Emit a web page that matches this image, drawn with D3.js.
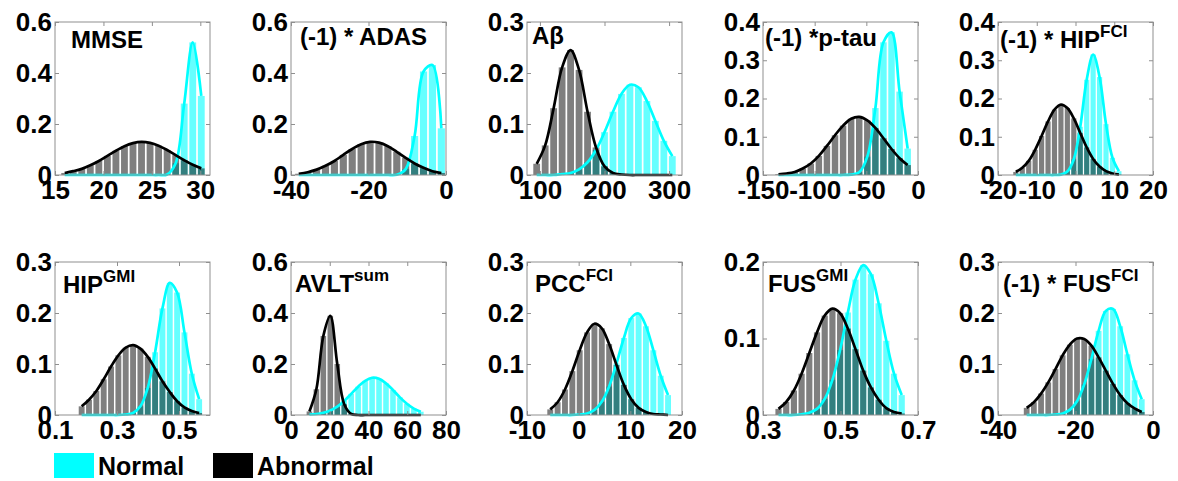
<!DOCTYPE html>
<html>
<head>
<meta charset="utf-8">
<script src="https://cdn.jsdelivr.net/npm/d3@7"></script>
<style>
  body { margin: 0; background: #fff; }
  text { font-family: "Liberation Sans", Arial, sans-serif; font-weight: bold; fill: #000; }
</style>
</head>
<body>
<svg id="chart" width="1178" height="481"></svg>
<script>
// ---- data ----
var titles    = ["MMSE", "(-1) * ADAS", "A\u03b2", "(-1) *p-tau", "(-1) * HIP",
                 "HIP", "AVLT", "PCC", "FUS", "(-1) * FUS"];
var titleSups = ["", "", "", "", "FCI", "GMI", "sum", "FCI", "GMI", "FCI"];

var xDomains = [[15, 31], [-40, 0], [80, 320], [-150, 0], [-20, 20],
                [0.1, 0.6], [0, 80], [-10, 20], [0.3, 0.7], [-40, 0]];
var xTicks = [[15, 20, 25, 30], [-40, -20, 0], [100, 200, 300], [-150, -100, -50, 0], [-20, -10, 0, 10, 20],
              [0.1, 0.3, 0.5], [0, 20, 40, 60, 80], [-10, 0, 10, 20], [0.3, 0.5, 0.7], [-40, -20, 0]];
var yMax = [0.6, 0.6, 0.3, 0.4, 0.4, 0.3, 0.6, 0.3, 0.2, 0.3];
var yTicks = [[0, 0.2, 0.4, 0.6], [0, 0.2, 0.4, 0.6], [0, 0.1, 0.2, 0.3], [0, 0.1, 0.2, 0.3, 0.4], [0, 0.1, 0.2, 0.3, 0.4],
              [0, 0.1, 0.2, 0.3], [0, 0.2, 0.4, 0.6], [0, 0.1, 0.2, 0.3], [0, 0.1, 0.2], [0, 0.1, 0.2, 0.3]];

// first and last bin centre of each panel (bins are evenly spaced)
var binRanges = [[16, 30.1], [-38, -1.2], [95, 305], [-135, -10], [-15.4, 11.2],
                 [0.186, 0.565], [9.5, 67], [-5.5, 17.3], [0.34, 0.658], [-32.6, -2.9]];

var normal = [
  [0, 0, 0, 0, 0, 0, 0, 0, 0, 0, 0, 0, 0.002, 0.046, 0.28, 0.52, 0.31],
  [0, 0, 0, 0, 0, 0, 0, 0, 0, 0, 0, 0.001, 0.023, 0.153, 0.406, 0.431, 0.183],
  [0, 0, 0, 0.002, 0.004, 0.011, 0.025, 0.049, 0.084, 0.124, 0.159, 0.177, 0.172, 0.145, 0.106, 0.067, 0.037],
  [0, 0, 0, 0, 0, 0, 0, 0, 0, 0.001, 0.007, 0.048, 0.175, 0.347, 0.373, 0.218, 0.069],
  [0, 0, 0, 0, 0, 0, 0, 0.001, 0.009, 0.041, 0.126, 0.249, 0.315, 0.256, 0.133, 0.045, 0.010],
  [0, 0, 0, 0, 0, 0, 0.001, 0.004, 0.017, 0.053, 0.123, 0.209, 0.259, 0.240, 0.162, 0.081, 0.031],
  [0.002, 0.004, 0.009, 0.018, 0.033, 0.055, 0.083, 0.111, 0.134, 0.146, 0.142, 0.124, 0.098, 0.069, 0.044, 0.025, 0.013],
  [0, 0, 0, 0, 0.001, 0.003, 0.010, 0.026, 0.056, 0.101, 0.151, 0.190, 0.199, 0.174, 0.127, 0.077, 0.039],
  [0, 0, 0, 0.001, 0.003, 0.008, 0.021, 0.046, 0.085, 0.134, 0.177, 0.196, 0.184, 0.146, 0.097, 0.054, 0.026],
  [0, 0, 0, 0, 0.001, 0.003, 0.010, 0.027, 0.060, 0.110, 0.165, 0.204, 0.208, 0.174, 0.119, 0.068, 0.031]
];
var abnormal = [
  [0.008, 0.015, 0.024, 0.038, 0.055, 0.075, 0.095, 0.113, 0.125, 0.130, 0.126, 0.115, 0.098, 0.078, 0.058, 0.040, 0.026],
  [0.005, 0.011, 0.021, 0.036, 0.055, 0.079, 0.102, 0.121, 0.130, 0.127, 0.113, 0.091, 0.067, 0.045, 0.028, 0.015, 0.008],
  [0.022, 0.058, 0.131, 0.211, 0.245, 0.206, 0.124, 0.054, 0.017, 0.004, 0.001, 0, 0, 0, 0, 0, 0],
  [0.002, 0.004, 0.008, 0.017, 0.030, 0.050, 0.076, 0.104, 0.129, 0.147, 0.152, 0.143, 0.123, 0.096, 0.068, 0.044, 0.026],
  [0.008, 0.019, 0.037, 0.066, 0.102, 0.140, 0.171, 0.184, 0.175, 0.148, 0.110, 0.072, 0.042, 0.022, 0.010, 0.004, 0.001],
  [0.017, 0.030, 0.047, 0.070, 0.095, 0.117, 0.132, 0.137, 0.130, 0.114, 0.091, 0.066, 0.045, 0.027, 0.015, 0.008, 0.004],
  [0.014, 0.101, 0.310, 0.389, 0.200, 0.042, 0.004, 0, 0, 0, 0, 0, 0, 0, 0, 0, 0],
  [0.011, 0.025, 0.050, 0.086, 0.127, 0.162, 0.179, 0.170, 0.139, 0.098, 0.059, 0.031, 0.014, 0.006, 0.002, 0.001, 0],
  [0.008, 0.017, 0.032, 0.054, 0.081, 0.108, 0.130, 0.139, 0.133, 0.113, 0.086, 0.058, 0.036, 0.020, 0.009, 0.004, 0.002],
  [0.014, 0.025, 0.042, 0.064, 0.090, 0.117, 0.138, 0.150, 0.149, 0.136, 0.113, 0.087, 0.061, 0.039, 0.023, 0.013, 0.006]
];

var legendLabels = ["Normal", "Abnormal"];

// ---- layout ----
var colLeft = [55, 291, 527, 763, 998],
    rowTop = [22, 262],
    W = 155, H = 153;
var titleOffsets = [[16, 26], [9, 23], [5, 22], [2, 24], [2, 26],
                    [8, 31], [4, 30], [8, 30], [5, 30], [5, 30]];
var boxColor = "#8f8f8f",
    cyan = "#00ffff";

var svg = d3.select("#chart");

titles.forEach(function(title, i) {
  var g = svg.append("g")
        .attr("transform", "translate(" + colLeft[i % 5] + "," + rowTop[Math.floor(i / 5)] + ")");

  var x = d3.scaleLinear().domain(xDomains[i]).range([0, W]);
  var y = d3.scaleLinear().domain([0, yMax[i]]).range([H, 0]);

  var n = normal[i].length,
      lo = binRanges[i][0], hi = binRanges[i][1],
      step = (hi - lo) / (n - 1),
      bins = d3.range(n).map(function(k) { return lo + k * step; }),
      barW = Math.abs(x(lo + step) - x(lo)) * 0.8;

  g.append("clipPath").attr("id", "clip" + i)
    .append("rect").attr("x", 0).attr("y", -2).attr("width", W).attr("height", H + 4);

  var plot = g.append("g").attr("clip-path", "url(#clip" + i + ")");

  var groups = [
    {values: normal[i], fill: cyan, opacity: 0.6, stroke: cyan},
    {values: abnormal[i], fill: "#000", opacity: 0.5, stroke: "#000"}
  ];

  groups.forEach(function(grp) {
    plot.append("g")
      .selectAll("rect")
      .data(bins.filter(function(b, k) { return grp.values[k] > 0; }))
      .enter().append("rect")
        .attr("x", function(b) { return x(b) - barW / 2; })
        .attr("width", barW)
        .attr("y", function(b) { return y(grp.values[bins.indexOf(b)]); })
        .attr("height", function(b) { return H - y(grp.values[bins.indexOf(b)]); })
        .attr("fill", grp.fill)
        .attr("fill-opacity", grp.opacity);
  });

  var line = d3.line()
        .curve(d3.curveCatmullRom.alpha(0.5))
        .x(function(d) { return x(d[0]); })
        .y(function(d) { return y(d[1]); });

  groups.forEach(function(grp) {
    plot.append("path")
      .attr("fill", "none")
      .attr("stroke", grp.stroke)
      .attr("stroke-width", 2.7)
      .attr("d", line(bins.map(function(b, k) { return [b, grp.values[k]]; })));
  });

  // axes: labels bottom/left, inward ticks on all four sides
  var fmt = function(d) { return String(d); };
  g.append("g").attr("transform", "translate(0," + H + ")")
    .call(d3.axisBottom(x).tickValues(xTicks[i]).tickFormat(fmt)
          .tickSizeInner(-4).tickSizeOuter(0).tickPadding(6));
  g.append("g")
    .call(d3.axisLeft(y).tickValues(yTicks[i]).tickFormat(fmt)
          .tickSizeInner(-4).tickSizeOuter(0).tickPadding(3));
  g.append("g").call(d3.axisTop(x).tickValues(xTicks[i]).tickFormat("").tickSizeInner(-4).tickSizeOuter(0));
  g.append("g").attr("transform", "translate(" + W + ",0)")
    .call(d3.axisRight(y).tickValues(yTicks[i]).tickFormat("").tickSizeInner(-4).tickSizeOuter(0));

  g.selectAll(".domain").remove();
  g.selectAll(".tick line").attr("stroke", boxColor);
  g.selectAll(".tick text")
    .style("font-size", "26px")
    .style("font-family", "\"Liberation Sans\", Arial, sans-serif")
    .style("font-weight", "bold")
    .attr("fill", "#000");

  g.append("rect")
    .attr("width", W).attr("height", H)
    .attr("fill", "none")
    .attr("stroke", boxColor)
    .attr("stroke-width", 1);

  var t = g.append("text")
        .attr("x", titleOffsets[i][0])
        .attr("y", titleOffsets[i][1])
        .style("font-size", "24px");
  t.append("tspan").text(title);
  if (titleSups[i]) {
    t.append("tspan").attr("dy", -11).style("font-size", "17px").text(titleSups[i]);
  }
});

// legend
var legend = svg.append("g").attr("transform", "translate(54,453)");
legendLabels.forEach(function(label, k) {
  var item = legend.append("g").attr("transform", "translate(" + (k * 159) + ",0)");
  item.append("rect").attr("width", 40).attr("height", 25).attr("fill", k === 0 ? cyan : "#000");
  item.append("text").attr("x", 44).attr("y", 22).style("font-size", "25px").text(label);
});
</script>
</body>
</html>
